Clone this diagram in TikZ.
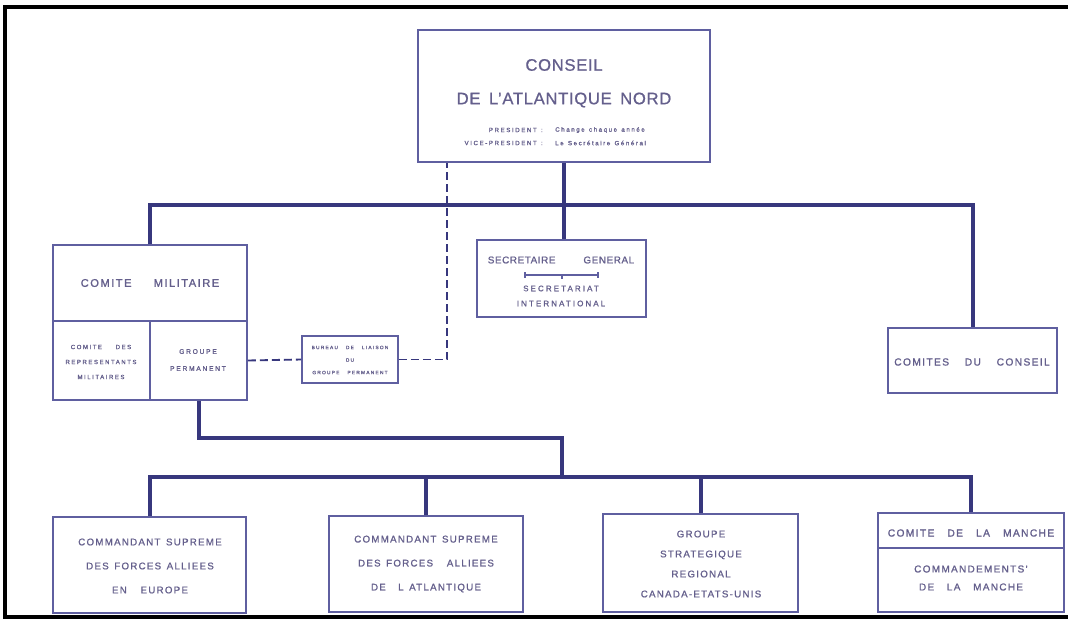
\documentclass[tikz,border=0pt]{standalone}
\usepackage{fontspec}
\setmainfont{Liberation Sans}
\newfontfamily\ltA[LetterSpace=4,WordSpace=1.6,FakeBold=0.8]{Liberation Sans}
\newfontfamily\ltB[LetterSpace=13,WordSpace=1.4,FakeBold=1]{Liberation Sans}
\newfontfamily\ltS[LetterSpace=6,WordSpace=1.2,FakeBold=1]{Liberation Sans}
\newfontfamily\ltC[LetterSpace=26,WordSpace=1.3,FakeBold=1.2]{Liberation Sans}
\usetikzlibrary{fit}
\definecolor{ink}{RGB}{55,55,125}
\definecolor{boxc}{RGB}{95,95,160}
\definecolor{txt}{RGB}{100,95,140}
\newcommand{\fsz}[2]{\fontsize{#1}{#2}\selectfont}
\begin{document}
\begin{tikzpicture}[x=0.75pt,y=-0.75pt,
  box/.style={draw=boxc,line width=1.3pt,inner sep=0pt},
  conn/.style={draw=ink,line width=3pt},
  dashline/.style={draw=ink,line width=1.4pt,dash pattern=on 6pt off 3pt},
  lbl/.style={text=txt,inner sep=0pt,align=center}]
\useasboundingbox (0,0) rectangle (1068,621);
\fill[white] (0,0) rectangle (1068,621);
% outer frame
\draw[black,line width=2.6pt] (1068,7) -- (5,7) -- (5,617) -- (1068,617);
% boxes
\node[box,fit={(418,30)(710,162)}] (conseil) {};
\node[box,fit={(53,245)(247,321)}] (cm) {};
\node[box,fit={(53,321)(150,400)}] (crm) {};
\node[box,fit={(150,321)(247,400)}] (gp) {};
\node[box,fit={(477,240)(646,317)}] (sg) {};
\node[box,fit={(302,336)(398,383)}] (bl) {};
\node[box,fit={(888,328)(1057,393)}] (cc) {};
\node[box,fit={(53,517)(246,613)}] (b1) {};
\node[box,fit={(329,516)(523,612)}] (b2) {};
\node[box,fit={(603,514)(798,612)}] (b3) {};
\node[box,fit={(878,513)(1064,548)}] (m1) {};
\node[box,fit={(878,548)(1064,612)}] (m2) {};
% junction coordinates
\coordinate (busT) at (560,205);
\coordinate (busB) at (560,477);
\coordinate (jn) at (562,438);
\coordinate (dx) at (447,0);
% connectors
\draw[conn] (conseil.south) -- (conseil.south |- sg.north);
\draw[conn] (cm.north) |- (busT) -| (cc.north);
\draw[conn] (gp.south) |- (jn) -- (jn |- busB);
\draw[conn] (b1.north) |- (busB) -| (m1.north);
\draw[conn] (b2.north) -- (b2.north |- busB);
\draw[conn] (b3.north) -- (b3.north |- busB);
\draw[dashline] (gp.east) -- (bl.west);
\draw[dashline] (bl.east) -| (conseil.south -| dx);
% texts
\node[lbl,font=\ltA\fsz{12.5pt}{15pt}] (t1) at (564,65) {CONSEIL};
\node[lbl,font=\ltA\fsz{12.5pt}{15pt}] (t2) at (564,100) {DE L’ATLANTIQUE NORD};
\node[lbl,anchor=east,font=\ltC\fsz{4.6pt}{6pt}] (t3) at (543,130) {PRESIDENT :};
\node[lbl,anchor=west,font=\ltC\fsz{4.6pt}{6pt}] (t4) at (555,130) {Change chaque année};
\node[lbl,anchor=east,font=\ltC\fsz{4.6pt}{6pt}] (t5) at (543,143) {VICE-PRESIDENT :};
\node[lbl,anchor=west,font=\ltC\fsz{4.6pt}{6pt}] (t6) at (555,143) {Le Secrétaire Général};
\node[lbl,font=\ltB\fsz{8.4pt}{10pt}] (t7) at (150,283) {COMITE \hspace{7pt} MILITAIRE};
\node[lbl,font=\ltC\fsz{4.5pt}{11.25pt}] (t8) at (101,362) {COMITE \hspace{4pt} DES\\REPRESENTANTS\\MILITAIRES};
\node[lbl,font=\ltC\fsz{5pt}{12.75pt}] (t9) at (198,360) {GROUPE\\PERMANENT};
\node[lbl,font=\ltC\fsz{3.6pt}{9.4pt}] (t10) at (350,360) {BUREAU \hspace{1pt} DE \hspace{1pt} LIAISON\\DU\\GROUPE \hspace{1pt} PERMANENT};
\node[lbl,font=\ltS\fsz{7.4pt}{9pt}] (t11) at (561,260) {SECRETAIRE \hspace{15pt} GENERAL};
\draw[boxc,line width=0.9pt] (525,272) -- (525,278) (525,275) -- (598,275) (598,272) -- (598,278) (562,275) -- (562,279);
\node[lbl,font=\ltC\fsz{6pt}{11.25pt}] (t12) at (561,296) {SECRETARIAT\\INTERNATIONAL};
\node[lbl,font=\ltB\fsz{7.7pt}{10pt}] (t13) at (972,362) {COMITES \hspace{3pt} DU \hspace{3pt} CONSEIL};
\node[lbl,font=\ltB\fsz{7.3pt}{18pt}] (t14) at (150,566) {COMMANDANT SUPREME\\DES FORCES ALLIEES\\EN \hspace{2pt} EUROPE};
\node[lbl,font=\ltB\fsz{7.3pt}{18pt}] (t15) at (426,564) {COMMANDANT SUPREME\\DES FORCES \hspace{2pt} ALLIEES\\DE \hspace{1pt} L ATLANTIQUE};
\node[lbl,font=\ltB\fsz{7.3pt}{15pt}] (t16) at (701,564) {GROUPE\\STRATEGIQUE\\REGIONAL\\CANADA-ETATS-UNIS};
\node[lbl,font=\ltB\fsz{7.7pt}{9pt}] (t17) at (971,533) {COMITE \hspace{1pt} DE \hspace{1pt} LA \hspace{1pt} MANCHE};
\node[lbl,font=\ltB\fsz{7.5pt}{13.5pt}] (t18) at (971,578) {COMMANDEMENTS’\\DE \hspace{1pt} LA \hspace{1pt} MANCHE};
\end{tikzpicture}
\end{document}
